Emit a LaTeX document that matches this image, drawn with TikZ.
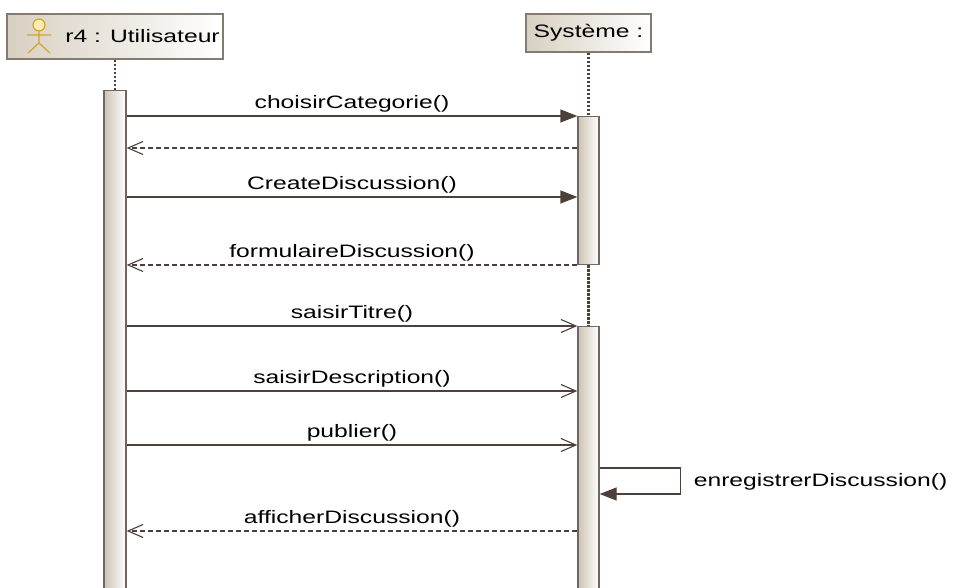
\documentclass[tikz,border=0pt]{standalone}
\usepackage{fontspec}
\setmainfont[FakeStretch=1.37]{Liberation Sans}
\usetikzlibrary{arrows.meta,positioning}
\definecolor{ligne}{HTML}{4D403A}
\definecolor{bord}{HTML}{857A72}
\definecolor{beige}{HTML}{D8D0C1}
\definecolor{acteur}{HTML}{D6A32E}
\definecolor{tete}{HTML}{FBEFB0}
\begin{document}
\begin{tikzpicture}[x=1pt,y=-1pt,font=\fontsize{18}{20}\selectfont,
    objet/.style={draw=bord,line width=1.3pt,left color=beige,right color=white,inner sep=0pt},
    barre/.style={draw=ligne!80,line width=1.3pt,left color=beige!85!bord,right color=white,minimum width=21pt,anchor=north,inner sep=0pt},
    vie/.style={draw=ligne,line width=2.2pt,dash pattern=on 2.5pt off 1.5pt},
    appel/.style={draw=ligne,line width=1.3pt,-{Triangle[length=17pt,width=13pt]}},
    reponse/.style={draw=ligne,line width=1.1pt,-{Straight Barb[length=15pt,width=13pt]}},
    retour/.style={reponse,dash pattern=on 5pt off 3pt},
    msg/.style={midway,above=3pt,inner sep=0pt}]
    \useasboundingbox (0,0) rectangle (953,588);
    \node[objet,minimum width=216pt,minimum height=45pt] (util) at (115,36.5) {\hspace{55pt}r4 : Utilisateur};
    \node[objet,minimum width=125pt,minimum height=38pt] (sys) at (588.5,33) {Système :};
    \draw[acteur,line width=1.2pt,fill=tete] (39,25) circle (6);
    \draw[acteur,line width=1.2pt] (39,31)--(39,43) (27,35)--(51,35) (28,53)--(39,43)--(50,53);
    \node[barre,minimum width=22pt,minimum height=502pt] (u1) at (115,90) {};
    \node[barre,minimum height=148pt] (s1) at (588.5,116) {};
    \node[barre,minimum height=266pt] (s2) at (588.5,326) {};
    \draw[vie] (util.south)--(u1.north);
    \draw[vie] (sys.south)--(s1.north);
    \draw[vie] (s1.south)--(s2.north);
    \draw[appel] (u1.east |- 0,116)--(s1.west |- 0,116) node[msg]{choisirCategorie()};
    \draw[retour] (s1.west |- 0,148)--(u1.east |- 0,148);
    \draw[appel] (u1.east |- 0,197)--(s1.west |- 0,197) node[msg]{CreateDiscussion()};
    \draw[retour] (s1.west |- 0,265)--(u1.east |- 0,265) node[msg]{formulaireDiscussion()};
    \draw[reponse] (u1.east |- 0,326)--(s2.west |- 0,326) node[msg]{saisirTitre()};
    \draw[reponse] (u1.east |- 0,391)--(s2.west |- 0,391) node[msg]{saisirDescription()};
    \draw[reponse] (u1.east |- 0,445)--(s2.west |- 0,445) node[msg]{publier()};
    \draw[appel] (s2.east |- 0,468)--++(81,0) coordinate (boucle)--++(0,26)--(s2.east |- 0,494);
    \coordinate (milieu) at (boucle |- 0,482);
    \node[inner sep=0pt,right=13pt of milieu] (enreg) {enregistrerDiscussion()};
    \draw[retour] (s2.west |- 0,531)--(u1.east |- 0,531) node[msg]{afficherDiscussion()};
\end{tikzpicture}
\end{document}
